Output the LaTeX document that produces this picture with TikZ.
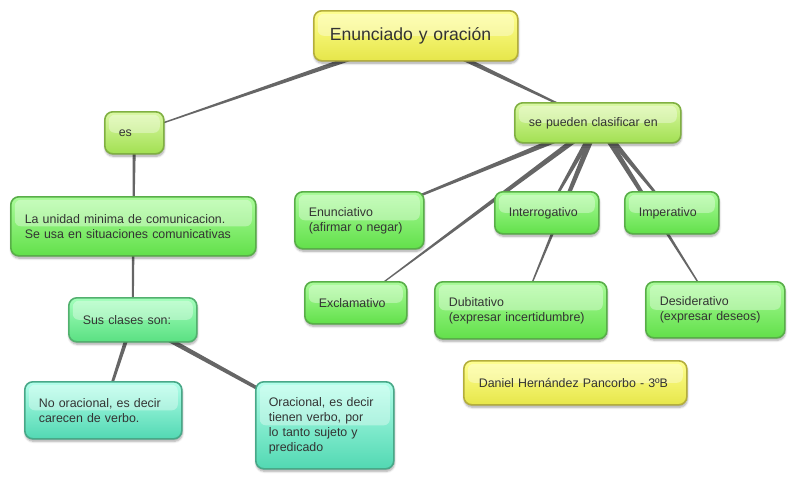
\documentclass[tikz,border=0pt]{standalone}
\usepackage{fontspec}
\setmainfont{Liberation Sans}
\usetikzlibrary{calc,shadows.blur}
\pgfdeclarelayer{background}
\pgfsetlayers{background,main}
\definecolor{linkgrey}{HTML}{666666}
\definecolor{textgrey}{HTML}{333333}
\definecolor{ytop}{HTML}{FFFF90}
\definecolor{ybot}{HTML}{E6E64A}
\definecolor{yborder}{HTML}{B4AE3C}
\definecolor{ltop}{HTML}{DAF8A4}
\definecolor{lbot}{HTML}{A2E052}
\definecolor{lborder}{HTML}{80B042}
\definecolor{gtop}{HTML}{AAFC9A}
\definecolor{gbot}{HTML}{62E04A}
\definecolor{gborder}{HTML}{58AE48}
\definecolor{stop}{HTML}{A4FFBC}
\definecolor{sbot}{HTML}{5AE082}
\definecolor{sborder}{HTML}{52B06E}
\definecolor{ttop}{HTML}{B2FFEA}
\definecolor{tbot}{HTML}{52D8B2}
\definecolor{tborder}{HTML}{48A888}
\newcommand{\mmlink}[4]{%
  \fill[linkgrey] ($(#1.center)!#3!90:(#2.center)$) -- ($(#2.center)!#4!-90:(#1.center)$)
    -- ($(#2.center)!#4!90:(#1.center)$) -- ($(#1.center)!#3!-90:(#2.center)$) -- cycle;}
\tikzset{
  mmbox/.style={rounded corners=8pt, line width=1.6pt, inner xsep=14pt, inner ysep=0pt,
    align=left, anchor=north west, text=textgrey, font=\fontsize{12.4}{15}\selectfont,
    blur shadow={shadow xshift=0.5pt, shadow yshift=-2.5pt, shadow blur steps=6, shadow opacity=35},
    path picture={\fill[white,opacity=0.35,rounded corners=6pt]
      ($(path picture bounding box.north west)+(4,3)$) rectangle ($(path picture bounding box.east)+(-4,0)$);}},
  ybox/.style={mmbox, draw=yborder, top color=ytop, bottom color=ybot},
  lbox/.style={mmbox, draw=lborder, top color=ltop, bottom color=lbot},
  gbox/.style={mmbox, draw=gborder, top color=gtop, bottom color=gbot},
  sbox/.style={mmbox, draw=sborder, top color=stop, bottom color=sbot},
  tbox/.style={mmbox, draw=tborder, top color=ttop, bottom color=tbot},
}
\begin{document}
\begin{tikzpicture}[x=1pt,y=-1pt]
\useasboundingbox (0,0) rectangle (792,479);
\node[ybox, text width=172pt, minimum height=50pt, inner xsep=16pt, font=\fontsize{17.6}{20}\selectfont] (root) at (313,10) {Enunciado y oración};
\node[lbox, text width=31pt, minimum height=42pt] (es) at (104,111) {es};
\node[lbox, text width=138pt, minimum height=40pt] (clas) at (514,102) {se pueden clasificar en};
\node[gbox, text width=217pt, minimum height=59pt] (unidad) at (10,196) {La unidad minima de comunicacion.\\Se usa en situaciones comunicativas};
\node[sbox, text width=100pt, minimum height=44pt] (clases) at (68,297) {Sus clases son:};
\node[tbox, text width=129pt, minimum height=57pt] (nor) at (24,381) {No oracional, es decir\\carecen de verbo.};
\node[tbox, text width=112pt, minimum height=87pt, inner xsep=13pt] (ora) at (255,381) {Oracional, es decir\\tienen verbo, por\\lo tanto sujeto y\\predicado};
\node[gbox, text width=101pt, minimum height=57pt] (enun) at (294,191) {Enunciativo\\(afirmar o negar)};
\node[gbox, text width=76pt, minimum height=42pt] (inter) at (494,191) {Interrogativo};
\node[gbox, text width=66pt, minimum height=42pt] (imper) at (624,191) {Imperativo};
\node[gbox, text width=74pt, minimum height=42pt] (excl) at (304,281) {Exclamativo};
\node[gbox, text width=144pt, minimum height=57pt] (dub) at (434,281) {Dubitativo\\(expresar incertidumbre)};
\node[gbox, text width=111pt, minimum height=56pt] (des) at (645,281) {Desiderativo\\(expresar deseos)};
\node[ybox, text width=193pt, minimum height=44pt, inner xsep=15pt] (autor) at (463,360) {Daniel Hernández Pancorbo - 3ºB};
\begin{pgfonlayer}{background}
\mmlink{root}{es}{3pt}{0.4pt}
\mmlink{root}{clas}{3pt}{0.5pt}
\mmlink{es}{unidad}{1.8pt}{0.8pt}
\mmlink{unidad}{clases}{1.4pt}{0.8pt}
\mmlink{clases}{nor}{2.2pt}{1pt}
\mmlink{clases}{ora}{2.6pt}{1.3pt}
\mmlink{clas}{enun}{3pt}{0.6pt}
\mmlink{clas}{excl}{3pt}{0.3pt}
\mmlink{clas}{inter}{3pt}{0.8pt}
\mmlink{clas}{dub}{3pt}{0.3pt}
\mmlink{clas}{imper}{3pt}{0.8pt}
\mmlink{clas}{des}{3pt}{0.3pt}
\end{pgfonlayer}
\end{tikzpicture}
\end{document}
